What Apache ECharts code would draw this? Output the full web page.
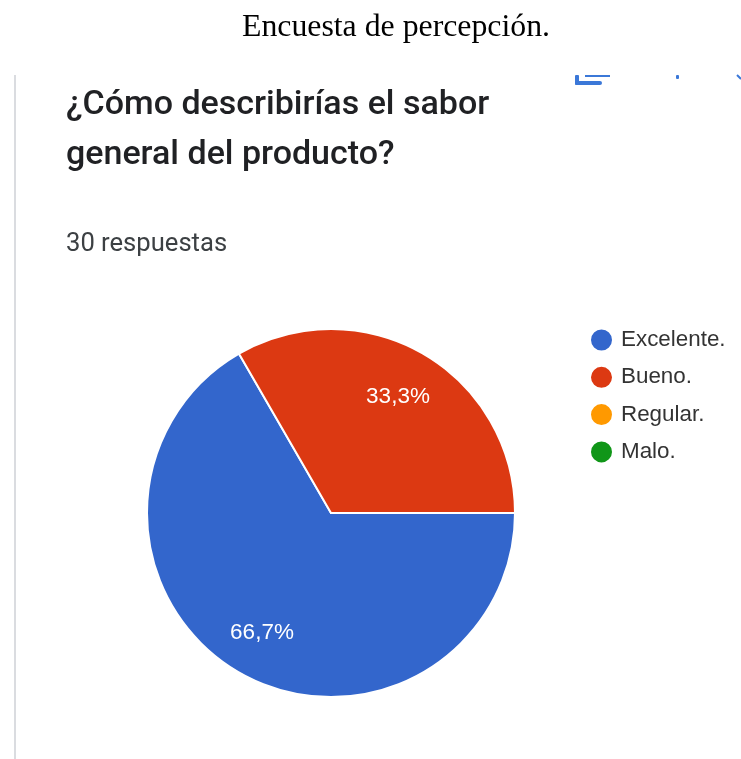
<!DOCTYPE html>
<html>
<head>
<meta charset="utf-8">
<style>html,body{margin:0;padding:0;background:#fff}#chart{width:741px;height:759px}</style>
<script src="https://cdn.jsdelivr.net/npm/echarts@6/dist/echarts.min.js"></script>
</head>
<body>
<div id="chart"></div>
<script>
// Survey answers (number of responses per option)
const categories = ['Excelente.', 'Bueno.', 'Regular.', 'Malo.'];
const responses = [20, 10, 0, 0];
const colors = ['#3366cc', '#dc3912', '#ff9900', '#109618'];

const heading = 'Encuesta de percepción.';
const questionLines = ['¿Cómo describirías el sabor', 'general del producto?'];
const responseCount = '30 respuestas';

const total = responses.reduce((a, b) => a + b, 0);
const percentLabel = v => (v / total * 100).toFixed(1).replace('.', ',') + '%';

const pieRadius = 184;
const labelRadius = 133;

// Angle of a slice midpoint, measured clockwise from 3 o'clock
function midAngle(index) {
  const before = responses.slice(0, index).reduce((a, b) => a + b, 0);
  return (before + responses[index] / 2) / total * 2 * Math.PI;
}

const chart = echarts.init(document.getElementById('chart'), null, { renderer: 'canvas' });
chart.setOption({
  backgroundColor: '#ffffff',
  animation: false,
  title: [
    { text: heading, left: 396, top: 28, padding: 0, textAlign: 'center', textVerticalAlign: 'middle',
      textStyle: { fontFamily: 'Liberation Serif', fontSize: 31.8, fontWeight: 'normal', color: '#000000' } },
    { text: questionLines[0], left: 66, top: 105, padding: 0, textVerticalAlign: 'middle',
      textStyle: { fontFamily: 'Roboto', fontSize: 34, fontWeight: 500, color: '#202124' } },
    { text: questionLines[1], left: 66, top: 155, padding: 0, textVerticalAlign: 'middle',
      textStyle: { fontFamily: 'Roboto', fontSize: 34, fontWeight: 500, color: '#202124' } },
    { text: responseCount, left: 66, top: 245, padding: 0, textVerticalAlign: 'middle',
      textStyle: { fontFamily: 'Roboto', fontSize: 25.6, fontWeight: 'normal', color: '#3c4043' } }
  ],
  legend: {
    orient: 'vertical',
    left: 589,
    top: 327.5,
    padding: 0,
    icon: 'circle',
    itemWidth: 23,
    itemHeight: 23,
    itemGap: 12.3,
    selectedMode: false,
    data: categories,
    textStyle: { fontFamily: 'Liberation Sans', fontSize: 22.4, color: '#333333', padding: [0, 0, 0, 3] }
  },
  color: colors,
  series: [{
    type: 'pie',
    center: [331, 513],
    radius: [0, pieRadius],
    startAngle: 0,
    clockwise: true,
    minShowLabelAngle: 1,
    stillShowZeroSum: false,
    data: categories.map((name, i) => ({ name, value: responses[i] })),
    itemStyle: { borderColor: '#ffffff', borderWidth: 2 },
    label: {
      show: true,
      position: 'inner',
      formatter: p => (p.value > 0 ? percentLabel(p.value) : ''),
      fontFamily: 'Liberation Sans',
      fontSize: 22.5,
      color: '#ffffff'
    },
    labelLine: { show: false },
    // Push the percentages outward from the slice mid-radius
    labelLayout: p => {
      const a = midAngle(p.dataIndex);
      const shift = labelRadius - pieRadius / 2;
      return { dx: Math.cos(a) * shift - 1, dy: Math.sin(a) * shift + 2 };
    },
    emphasis: { disabled: true }
  }],
  graphic: [
    // Left rule of the form card
    { type: 'rect', shape: { x: 14, y: 75, width: 2, height: 684 }, style: { fill: '#dadce0' } },
    // Toolbar icons cut off by the top edge of the card
    { type: 'rect', shape: { x: 575, y: 75, width: 4, height: 10, r: 1 }, style: { fill: '#3b78d8' } },
    { type: 'rect', shape: { x: 575, y: 81, width: 27, height: 4, r: 2 }, style: { fill: '#3b78d8' } },
    { type: 'rect', shape: { x: 585, y: 75, width: 25, height: 2 }, style: { fill: '#3b78d8' } },
    { type: 'rect', shape: { x: 676, y: 75, width: 3, height: 4, r: 1 }, style: { fill: '#3b78d8' } },
    { type: 'polyline', shape: { points: [[737, 75], [741, 79]] }, style: { stroke: '#3b78d8', lineWidth: 2, fill: 'none' } }
  ]
});
</script>
</body>
</html>
